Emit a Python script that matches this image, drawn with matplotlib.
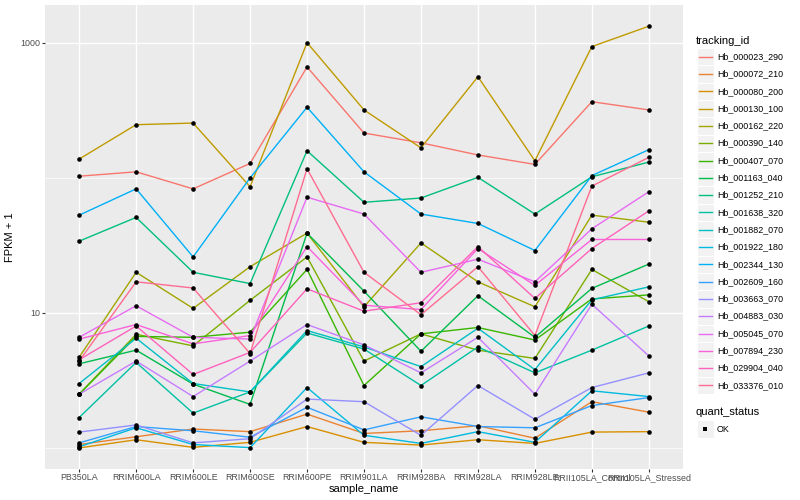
import numpy as np
import matplotlib
matplotlib.use('Agg')
import matplotlib.pyplot as plt
from matplotlib.ticker import NullFormatter
from matplotlib.patches import Rectangle

plt.rcParams['font.family'] = ['Liberation Sans', 'DejaVu Sans']

samples = ['PB350LA', 'RRIM600LA', 'RRIM600LE', 'RRIM600SE', 'RRIM600PE', 'RRIM901LA',
           'RRIM928BA', 'RRIM928LA', 'RRIM928LE', 'RRII105LA_Control', 'RRII105LA_Stressed']

tracking_ids = ['Hb_000023_290', 'Hb_000072_210', 'Hb_000080_200', 'Hb_000130_100', 'Hb_000162_220',
                'Hb_000390_140', 'Hb_000407_070', 'Hb_001163_040', 'Hb_001252_210', 'Hb_001638_320',
                'Hb_001882_070', 'Hb_001922_180', 'Hb_002344_130', 'Hb_002609_160', 'Hb_003663_070',
                'Hb_004883_030', 'Hb_005045_070', 'Hb_007894_230', 'Hb_029904_040', 'Hb_033376_010']

# ggplot hue palette, 20 levels
colors = ['#F8766D', '#EA8331', '#D89000', '#C09B00', '#A3A500', '#7CAE00', '#39B600', '#00BB4E',
          '#00BF7D', '#00C1A3', '#00BFC4', '#00BAE0', '#00B0F6', '#35A2FF', '#9590FF', '#C77CFF',
          '#E76BF3', '#FA62DB', '#FF62BC', '#FF6C91']

# FPKM + 1, one value per sample
hb_000023_290 = [103, 111, 83, 128, 664, 215, 182, 148, 126, 367, 319]
hb_000072_210 = [1.06, 1.21, 1.38, 1.32, 1.78, 1.28, 1.34, 1.46, 1.18, 2.2, 1.84]
hb_000080_200 = [1.0, 1.15, 1.01, 1.10, 1.44, 1.10, 1.05, 1.15, 1.08, 1.31, 1.32]
hb_000130_100 = [138, 248, 255, 86, 1005, 319, 167, 562, 134, 940, 1330]
hb_000162_220 = [4.7, 20, 10.8, 22, 39, 11.1, 33, 17, 11.1, 53, 47]
hb_000390_140 = [2.5, 6.95, 5.7, 12.4, 26, 4.4, 7.0, 5.3, 4.6, 21, 12.1]
hb_000407_070 = [2.5, 6.7, 6.6, 7.2, 21, 2.9, 7.0, 7.8, 6.3, 12.7, 13.6]
hb_001163_040 = [4.2, 5.3, 2.97, 2.1, 39, 14.5, 5.2, 13.4, 6.6, 15.2, 23]
hb_001252_210 = [34, 51, 20, 16.5, 159, 66, 71, 101, 54, 102, 131]
hb_001638_320 = [1.68, 4.3, 1.81, 2.6, 7.1, 5.4, 2.9, 5.6, 3.6, 5.3, 8.0]
hb_001882_070 = [3.0, 6.5, 3.0, 2.6, 7.4, 5.6, 4.0, 7.7, 3.8, 12.5, 15.6]
hb_001922_180 = [1.02, 1.41, 1.06, 1.005, 2.8, 1.24, 1.08, 1.32, 1.10, 2.65, 2.4]
hb_002344_130 = [53, 83, 26, 100, 334, 111, 54, 46, 29, 104, 162]
hb_002609_160 = [1.09, 1.44, 1.34, 1.20, 2.0, 1.36, 1.70, 1.44, 1.41, 2.06, 2.36]
hb_003663_070 = [1.31, 1.48, 1.09, 1.17, 2.3, 2.2, 1.24, 2.9, 1.63, 2.8, 3.6]
hb_004883_030 = [2.5, 4.4, 2.4, 4.4, 8.2, 5.8, 3.6, 6.6, 2.5, 11.6, 4.8]
hb_005045_070 = [6.6, 11.3, 6.6, 6.4, 72, 54, 20, 25, 17, 42, 79]
hb_007894_230 = [6.4, 8.2, 5.9, 6.8, 31, 11.4, 10.6, 30, 16, 35, 35]
hb_029904_040 = [4.5, 8.0, 3.5, 5.1, 15.1, 10.3, 11.9, 31, 12.8, 30, 57]
hb_033376_010 = [4.4, 17, 15.3, 5.0, 117, 20, 9.7, 22, 6.8, 87, 142]

series = [hb_000023_290, hb_000072_210, hb_000080_200, hb_000130_100, hb_000162_220,
          hb_000390_140, hb_000407_070, hb_001163_040, hb_001252_210, hb_001638_320,
          hb_001882_070, hb_001922_180, hb_002344_130, hb_002609_160, hb_003663_070,
          hb_004883_030, hb_005045_070, hb_007894_230, hb_029904_040, hb_033376_010]

W, H = 800, 500
fig = plt.figure(figsize=(8, 5), dpi=100)
ax = fig.add_axes([45 / W, 31 / H, 638 / W, 464 / H])
ax.set_facecolor('#EBEBEB')

x = np.arange(len(samples))
for vals, c in zip(series, colors):
    ax.plot(x, vals, color=c, lw=1.0, zorder=3, solid_capstyle='butt')
for vals in series:
    ax.plot(x, vals, 'o', color='black', ms=3.3, mew=0, zorder=4)

ax.set_yscale('log')
ax.set_ylim(0.698, 1910)
ax.set_xlim(-0.6, 10.6)
ax.set_yticks([10, 1000])
ax.set_yticklabels(['10', '1000'])
ax.set_yticks([1, 100], minor=True)
ax.yaxis.set_minor_formatter(NullFormatter())
ax.set_xticks(x)
ax.set_xticklabels(samples)
ax.tick_params(which='minor', length=0)
ax.tick_params(which='major', length=2.2, width=0.8, color='#333333', labelcolor='#4D4D4D',
               labelsize=6.4, pad=1.0)
ax.grid(which='major', color='white', lw=1.0)
ax.grid(which='minor', axis='y', color='white', lw=0.5)
ax.set_axisbelow(True)
for s in ax.spines.values():
    s.set_visible(False)

fig.text(364 / W, 1 - 489 / H, 'sample_name', ha='center', va='center', fontsize=8)
fig.text(10 / W, 1 - 237 / H, 'FPKM + 1', ha='center', va='center', rotation=90, fontsize=8)

# legend, drawn in pixel space
lax = fig.add_axes([0, 0, 1, 1], zorder=5)
lax.set_xlim(0, W)
lax.set_ylim(H, 0)
lax.axis('off')

lax.text(696, 40.5, 'tracking_id', ha='left', va='center', fontsize=8)
step = 17.3
for i, (tid, c) in enumerate(zip(tracking_ids, colors)):
    yc = 56.7 + step * i
    lax.add_patch(Rectangle((697, yc - step / 2), 16.5, step, facecolor='#F2F2F2',
                            edgecolor='white', lw=0.8))
    lax.plot([698.5, 711.5], [yc, yc], color=c, lw=1.0)
    lax.text(717, yc, tid, ha='left', va='center', fontsize=6.4)

lax.text(696, 412.3, 'quant_status', ha='left', va='center', fontsize=8)
lax.add_patch(Rectangle((697, 429 - step / 2), 16.5, step, facecolor='#F2F2F2',
                        edgecolor='white', lw=0.8))
lax.plot([705], [429], 's', color='black', ms=2.4, mew=0)
lax.text(717, 429, 'OK', ha='left', va='center', fontsize=6.4)

fig.savefig('out.png', dpi=100)
